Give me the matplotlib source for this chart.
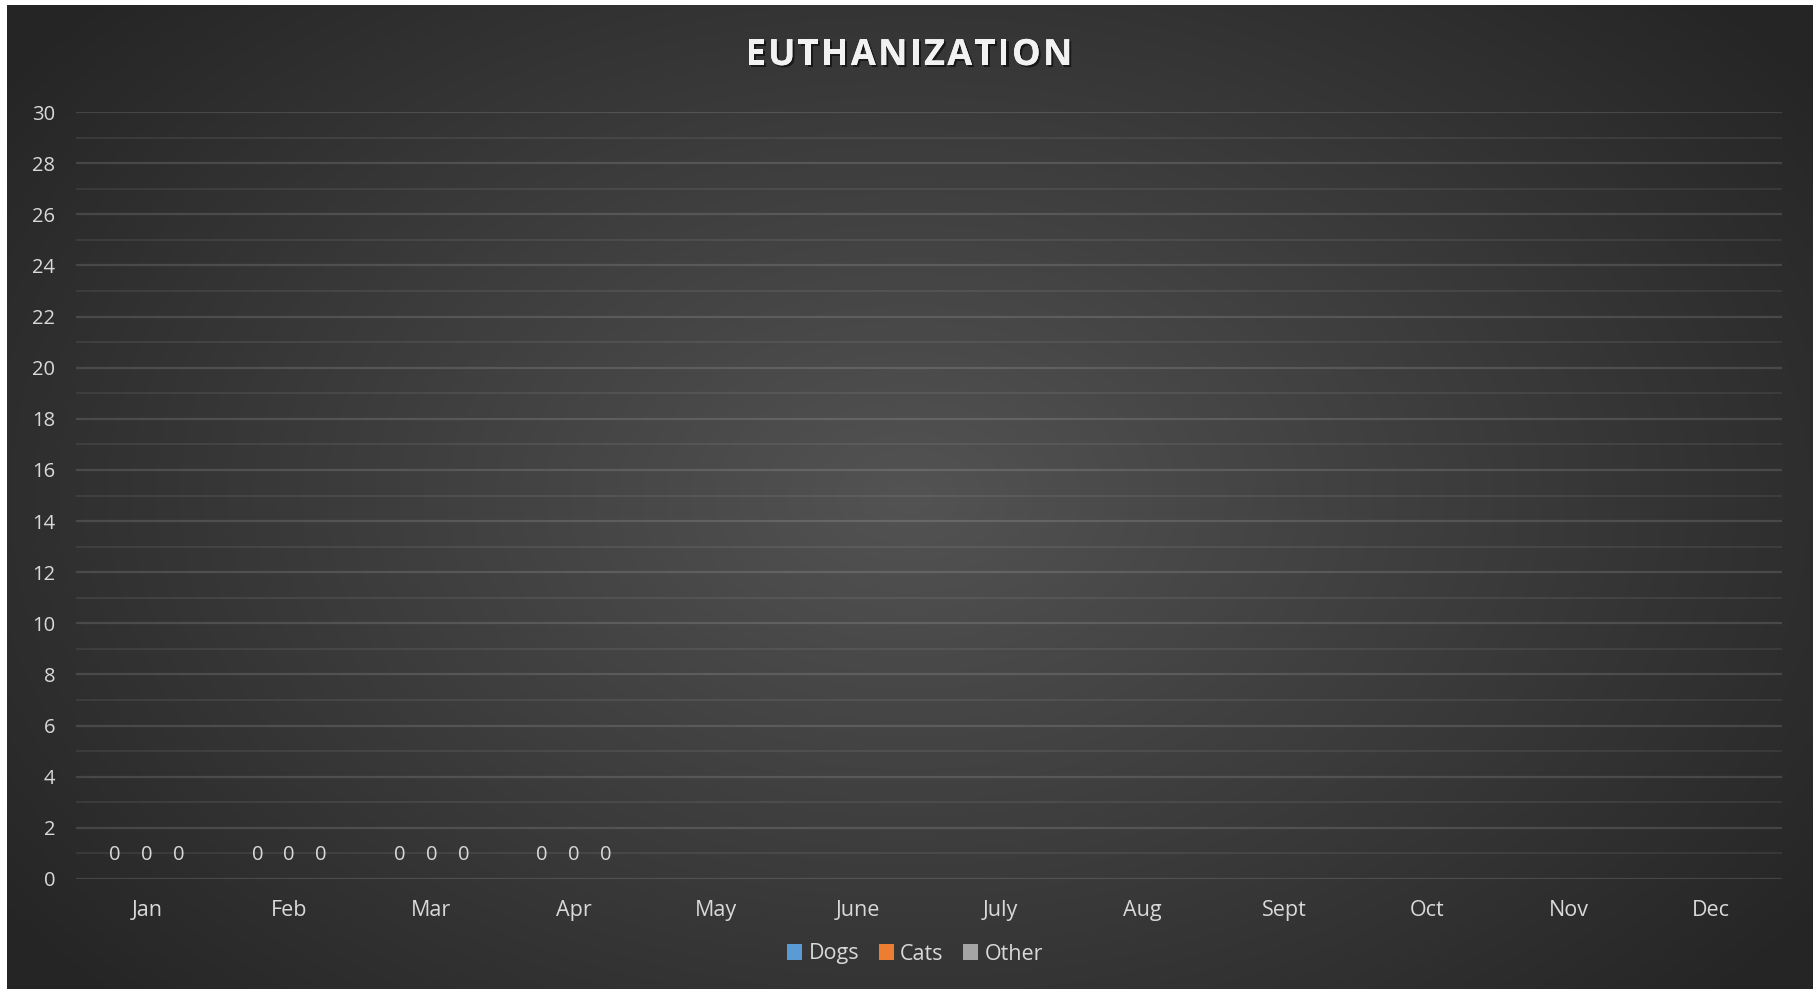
import numpy as np
import matplotlib
matplotlib.use("Agg")
import matplotlib.pyplot as plt
import matplotlib.patheffects as pe
from matplotlib.patches import Patch
from matplotlib.font_manager import FontProperties, findfont
from matplotlib.ft2font import FT2Font

months = ["Jan", "Feb", "Mar", "Apr", "May", "June", "July", "Aug", "Sept", "Oct", "Nov", "Dec"]
dogs = [0, 0, 0, 0, np.nan, np.nan, np.nan, np.nan, np.nan, np.nan, np.nan, np.nan]
cats = [0, 0, 0, 0, np.nan, np.nan, np.nan, np.nan, np.nan, np.nan, np.nan, np.nan]
other = [0, 0, 0, 0, np.nan, np.nan, np.nan, np.nan, np.nan, np.nan, np.nan, np.nan]
series_names = ["Dogs", "Cats", "Other"]
series_colors = ["#5b9bd5", "#ed7d31", "#a5a5a5"]
title = "EUTHANIZATION"

FONT = "Open Sans"
TXT = "#d9d9d9"

W, H = 1813, 989
fig = plt.figure(figsize=(W / 100, H / 100), dpi=100)
fig.patch.set_facecolor("white")

# background radial gradient
bg = fig.add_axes([7 / W, 0, 1 - 7 / W, 1 - 5 / H])
bg.set_axis_off()
yy, xx = np.mgrid[0:1:400j, 0:1:700j]
r = np.sqrt(((xx - 0.5) / 0.62) ** 2 + ((yy - 0.5) / 0.75) ** 2)
r = np.clip(r, 0, 1)
inner = np.array([0x53, 0x53, 0x53]) / 255
outer = np.array([0x25, 0x25, 0x25]) / 255
img = inner[None, None, :] * (1 - r[..., None]) + outer[None, None, :] * r[..., None]
bg.imshow(img, aspect="auto", extent=[0, 1, 0, 1], interpolation="bilinear")
bg.set_xlim(0, 1)
bg.set_ylim(0, 1)

ax = fig.add_axes([76 / W, 1 - 879 / H, (1782 - 76) / W, (879 - 112) / H])
ax.set_facecolor("none")

x = np.arange(len(months))
bw = 0.225
for i, (vals, name, col) in enumerate(zip([dogs, cats, other], series_names, series_colors)):
    bars = ax.bar(x + (i - 1) * bw, vals, width=bw, color=col, label=name, zorder=3)
    labels = ["" if np.isnan(v) else f"{v:g}" for v in vals]
    ax.bar_label(bars, labels=labels, padding=10, color=TXT, fontsize=14.5, family=FONT)

ax.set_xlim(-0.5, len(months) - 0.5)
ax.set_ylim(0, 30)
ax.set_yticks(np.arange(0, 31, 2))
ax.set_yticks(np.arange(1, 30, 2), minor=True)
ax.set_xticks(x)
ax.set_xticklabels(months)
ax.grid(axis="y", which="major", color="#ffffff", alpha=0.13, linewidth=1.6, zorder=0)
ax.grid(axis="y", which="minor", color="#ffffff", alpha=0.07, linewidth=1.4, zorder=0)
ax.tick_params(axis="both", which="both", length=0, colors=TXT)
ax.tick_params(axis="y", pad=15, labelsize=14.5)
ax.tick_params(axis="x", pad=15, labelsize=15.5)
for lab in ax.get_xticklabels() + ax.get_yticklabels():
    lab.set_family(FONT)
for s in ax.spines.values():
    s.set_visible(False)

# letter-spaced title (advances from the font file)
tsize = 26
fp = FontProperties(family=FONT, weight="bold", size=tsize)
ft = FT2Font(findfont(fp))
ft.set_size(tsize, 100)
adv_px = []
for ch in title:
    g = ft.load_char(ord(ch))
    adv_px.append(g.linearHoriAdvance / 65536.0)
spacing_px = 2.3
total_px = sum(adv_px) + spacing_px * (len(title) - 1)
cx, cy = 909.0, 56.0
xpos = cx - total_px / 2
for ch, a in zip(title, adv_px):
    fig.text(xpos / W, 1 - cy / H, ch, ha="left", va="center", color="#f2f2f2",
             fontsize=tsize, fontweight="bold", family=FONT,
             path_effects=[pe.withSimplePatchShadow(offset=(1.5, -1.5), shadow_rgbFace="black", alpha=0.55),
                           pe.Normal()])
    xpos += a + spacing_px

handles = [Patch(facecolor=c, edgecolor="none") for c in series_colors]
leg = fig.legend(handles, series_names, loc="center", bbox_to_anchor=(915 / W, 1 - 954 / H),
                 ncol=3, frameon=False, handlelength=0.7, handleheight=0.7, handletextpad=0.3,
                 columnspacing=0.9, prop={"family": FONT, "size": 15.5})
for t in leg.get_texts():
    t.set_color(TXT)

fig.savefig("out.png", dpi=100)
